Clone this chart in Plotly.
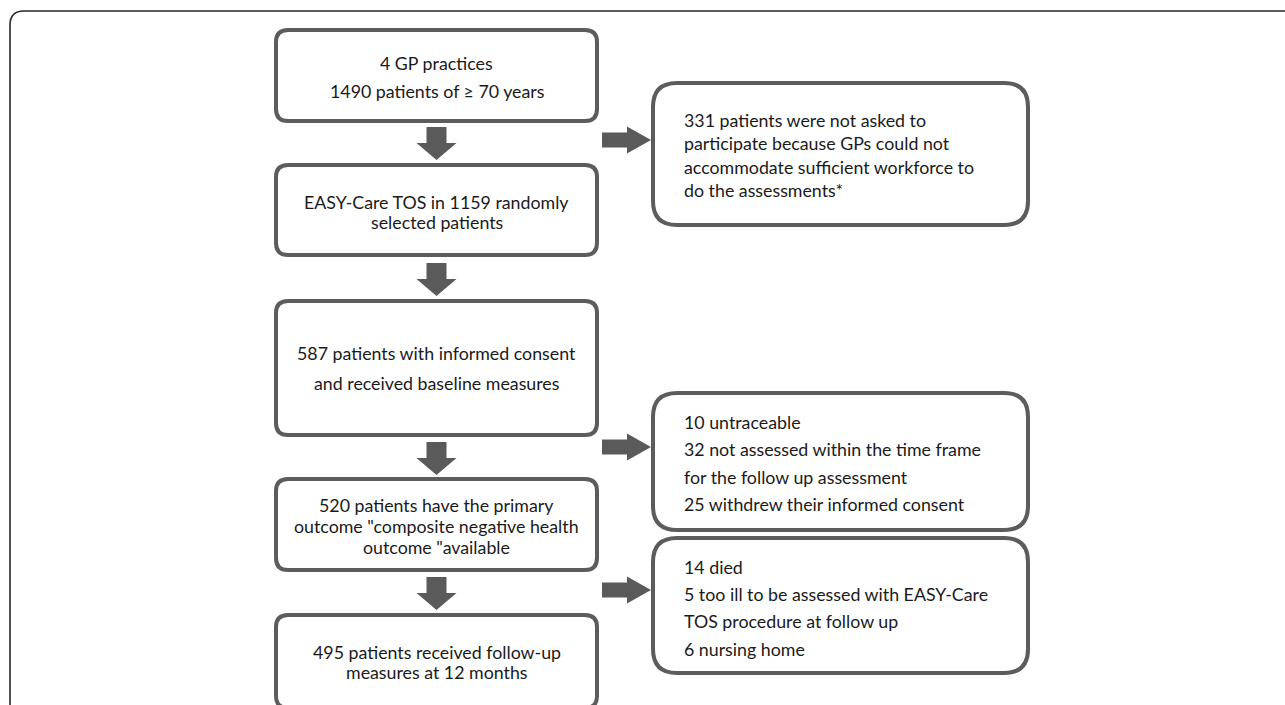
import plotly.graph_objects as go

# ---- content (flowchart texts / counts) ----
main_steps = [
    ["4 GP practices", "1490 patients of \u2265 70 years"],
    ["EASY-Care TOS in 1159 randomly", "selected patients"],
    ["587 patients with informed consent", "and received baseline measures"],
    ["520 patients have the primary", "outcome \"composite negative health", "outcome \"available"],
    ["495 patients received follow-up", "measures at 12 months"],
]
side_steps = [
    ["331 patients were not asked to", "participate because GPs could not",
     "accommodate sufficient workforce to", "do the assessments*"],
    ["10 untraceable", "32 not assessed within the time frame",
     "for the follow up assessment", "25 withdrew their informed consent"],
    ["14 died", "5 too ill to be assessed with EASY-Care",
     "TOS procedure at follow up", "6 nursing home"],
]

# ---- layout geometry (pixels) ----
W, H = 1285, 705
main_x = (276, 597)
main_y = [(30, 121), (165, 255), (301, 435), (479, 570), (615, 708)]
main_text_center = [77, 212, 368, 526, 662]
main_spacing = [28, 20, 30, 21, 20]
side_x = (653, 1028)
side_y = [(83, 225), (393, 530), (538, 673)]
side_first_line = [120, 422, 567]
side_spacing = [23.4, 27.4, 27.2]
side_text_x = 682
down_arrows = [127, 263, 442, 577]
right_arrows = [140, 447, 590]

BOX_COLOR = "#5c5c5c"
ARROW_COLOR = "#5a5a5a"
TEXT_COLOR = "#1a1a1a"
FONT = "Lato"
FONT_SIZE = 17.8


def rounded_rect(x0, y0, x1, y1, r):
    return (f"M {x0+r},{y0} L {x1-r},{y0} Q {x1},{y0} {x1},{y0+r} "
            f"L {x1},{y1-r} Q {x1},{y1} {x1-r},{y1} L {x0+r},{y1} "
            f"Q {x0},{y1} {x0},{y1-r} L {x0},{y0+r} Q {x0},{y0} {x0+r},{y0} Z")


shapes = []
# outer frame (extends beyond the picture on the right and bottom)
shapes.append(dict(type="path", xref="x", yref="y",
                   path=rounded_rect(10, 11, 1320, 760, 14),
                   line=dict(color="#262626", width=1.6), fillcolor="rgba(0,0,0,0)"))

for (y0, y1) in main_y:
    shapes.append(dict(type="path", xref="x", yref="y",
                       path=rounded_rect(main_x[0], y0, main_x[1], y1, 12),
                       line=dict(color=BOX_COLOR, width=4), fillcolor="white"))
for (y0, y1) in side_y:
    shapes.append(dict(type="path", xref="x", yref="y",
                       path=rounded_rect(side_x[0], y0, side_x[1], y1, 24),
                       line=dict(color=BOX_COLOR, width=4), fillcolor="white"))

cx = (main_x[0] + main_x[1]) / 2
for top in down_arrows:
    p = (f"M {cx-10},{top} L {cx+10},{top} L {cx+10},{top+16} L {cx+20},{top+16} "
         f"L {cx},{top+33} L {cx-20},{top+16} L {cx-10},{top+16} Z")
    shapes.append(dict(type="path", xref="x", yref="y", path=p,
                       line=dict(width=0), fillcolor=ARROW_COLOR))
for cy in right_arrows:
    p = (f"M 602,{cy-7.5} L 627,{cy-7.5} L 627,{cy-13.5} L 651,{cy} "
         f"L 627,{cy+13.5} L 627,{cy+7.5} L 602,{cy+7.5} Z")
    shapes.append(dict(type="path", xref="x", yref="y", path=p,
                       line=dict(width=0), fillcolor=ARROW_COLOR))

annotations = []
for lines, c, sp in zip(main_steps, main_text_center, main_spacing):
    n = len(lines)
    for i, t in enumerate(lines):
        y = c + (i - (n - 1) / 2) * sp
        annotations.append(dict(x=cx, y=y, xref="x", yref="y", text=t,
                                showarrow=False, xanchor="center", yanchor="middle",
                                font=dict(family=FONT, size=FONT_SIZE, color=TEXT_COLOR)))
for lines, y0, sp in zip(side_steps, side_first_line, side_spacing):
    for i, t in enumerate(lines):
        annotations.append(dict(x=side_text_x, y=y0 + i * sp, xref="x", yref="y", text=t,
                                showarrow=False, xanchor="left", yanchor="middle",
                                font=dict(family=FONT, size=FONT_SIZE, color=TEXT_COLOR)))

fig = go.Figure()
fig.update_layout(
    width=W, height=H, margin=dict(l=0, r=0, t=0, b=0),
    paper_bgcolor="white", plot_bgcolor="white",
    xaxis=dict(range=[0, W], visible=False, fixedrange=True),
    yaxis=dict(range=[H, 0], visible=False, fixedrange=True),
    shapes=shapes, annotations=annotations, showlegend=False,
)
fig.write_html("out.html", config={"displayModeBar": False},
               post_script="document.body.style.margin='0';document.body.style.overflow='hidden';")
